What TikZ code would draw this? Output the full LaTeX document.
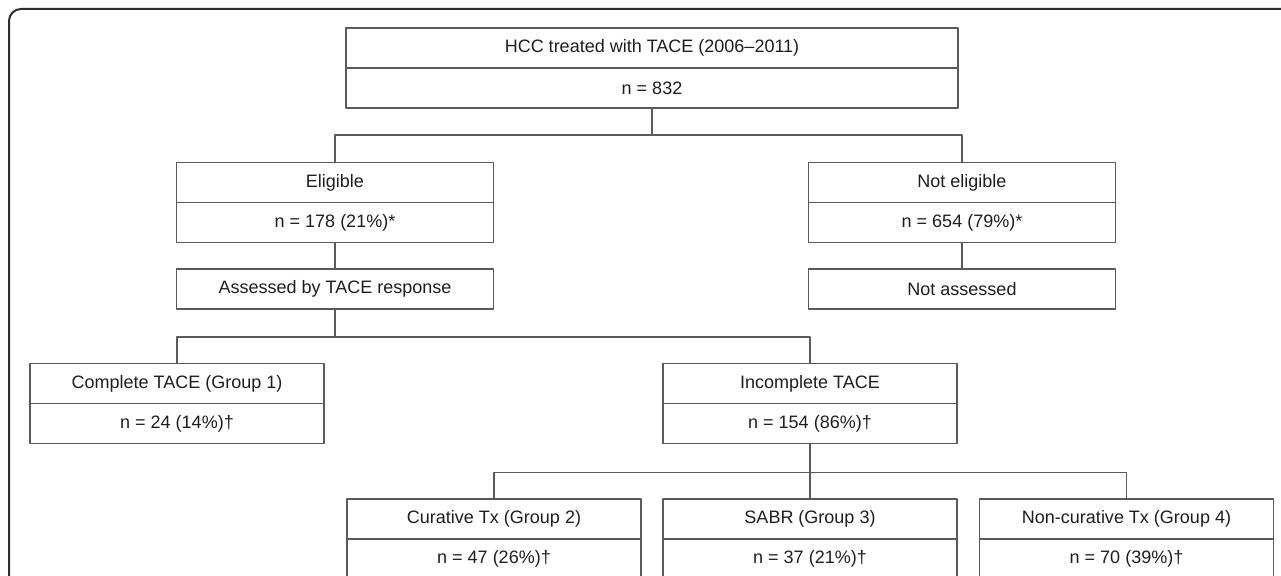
\documentclass[tikz,border=0pt]{standalone}
\usepackage{fontspec}
\setmainfont{Liberation Sans}
\definecolor{boxline}{HTML}{5A5A5A}
\definecolor{frameline}{HTML}{2E2E2E}
\definecolor{txt}{HTML}{1E1E1E}
\begin{document}
\begin{tikzpicture}[x=1pt, y=-1pt, line join=round,
  cell/.style={draw=boxline, line width=1.2pt, minimum height=40pt, inner sep=0pt,
    outer sep=0pt, text=txt, font=\fontsize{18}{21}\selectfont},
  link/.style={draw=boxline, line width=1.2pt}]
  \useasboundingbox (0,0) rectangle (1281,575);

  % Frame
  \draw[frameline, line width=2pt, rounded corners=12pt] (9,9) rectangle (1320,620);

  % Top
  \node[cell, minimum width=612pt] (hcc) at (652,48) {HCC treated with TACE (2006–2011)};
  \node[cell, minimum width=612pt] (hccN) at (652,88) {n = 832};

  % Eligibility
  \node[cell, minimum width=317pt] (elig) at (335,182.5) {Eligible};
  \node[cell, minimum width=317pt] (eligN) at (335,222.5) {n = 178 (21\%)*};
  \node[cell, minimum width=317pt] (assessed) at (335,289) {Assessed by TACE response};
  \node[cell, minimum width=307pt] (nonelig) at (962,182.5) {Not eligible};
  \node[cell, minimum width=307pt] (noneligN) at (962,222.5) {n = 654 (79\%)*};
  \node[cell, minimum width=307pt] (nonassessed) at (962,289) {Not assessed};

  % TACE response
  \node[cell, minimum width=294pt] (complete) at (177,383.5) {Complete TACE (Group 1)};
  \node[cell, minimum width=294pt] (completeN) at (177,423.5) {n = 24 (14\%)†};
  \node[cell, minimum width=294pt] (incomplete) at (810,383.5) {Incomplete TACE};
  \node[cell, minimum width=294pt] (incompleteN) at (810,423.5) {n = 154 (86\%)†};

  % Treatment groups
  \node[cell, minimum width=294pt] (curative) at (494,519) {Curative Tx (Group 2)};
  \node[cell, minimum width=294pt] (curativeN) at (494,559) {n = 47 (26\%)†};
  \node[cell, minimum width=294pt] (sabr) at (810,519) {SABR (Group 3)};
  \node[cell, minimum width=294pt] (sabrN) at (810,559) {n = 37 (21\%)†};
  \node[cell, minimum width=294pt] (noncur) at (1126.5,519) {Non-curative Tx (Group 4)};
  \node[cell, minimum width=294pt] (noncurN) at (1126.5,559) {n = 70 (39\%)†};

  % Connectors
  \draw[link] (hccN.south) -- ++(0,27) coordinate (j1);
  \draw[link] (elig.north) |- (j1) -| (nonelig.north);
  \draw[link] (eligN.south) -- (assessed.north);
  \draw[link] (noneligN.south) -- (nonassessed.north);
  \draw[link] (assessed.south) -- ++(0,28) coordinate (j2);
  \draw[link] (complete.north) |- (j2) -| (incomplete.north);
  \draw[link] (incompleteN.south) -- ++(0,29) coordinate (j3);
  \draw[link] (curative.north) |- (j3) -| (noncur.north);
  \draw[link] (j3) -- (sabr.north);
\end{tikzpicture}
\end{document}
